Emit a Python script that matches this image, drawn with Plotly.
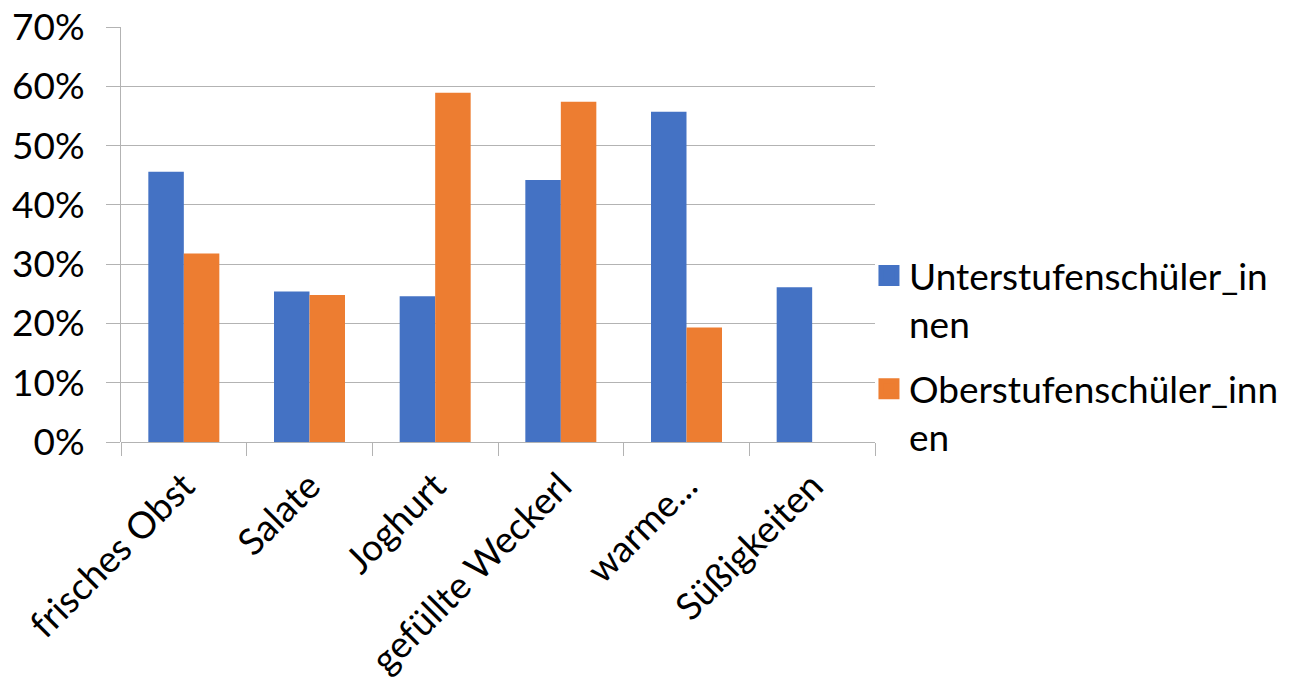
import plotly.graph_objects as go

categories = ["frisches Obst", "Salate", "Joghurt", "gefüllte Weckerl", "warme...", "Süßigkeiten"]
unterstufe = [0.456, 0.254, 0.246, 0.442, 0.557, 0.261]
oberstufe = [0.318, 0.248, 0.589, 0.574, 0.193, 0.0]
series_names = ["Unterstufenschüler_in<br>nen", "Oberstufenschüler_inn<br>en"]
colors = ["#4472C4", "#ED7D31"]
y_ticks = [0, 0.1, 0.2, 0.3, 0.4, 0.5, 0.6, 0.7]

GRID = "#b3b3b3"
FONT = "Lato, 'Open Sans', sans-serif"

fig = go.Figure()
for vals, col in zip([unterstufe, oberstufe], colors):
    fig.add_trace(go.Bar(x=categories, y=vals, marker=dict(color=col, line=dict(width=0)),
                         showlegend=False))

# legend entries
for i, (name, col) in enumerate(zip(series_names, colors)):
    fig.add_trace(go.Scatter(x=[None], y=[None], mode="markers", name=name,
                             legendgroup=f"g{i}",
                             marker=dict(symbol="square", size=16, color=col,
                                         line=dict(color=col, width=5))))

fig.update_layout(
    width=1298, height=691,
    margin=dict(l=121, r=423, t=27, b=249, autoexpand=False),
    paper_bgcolor="white", plot_bgcolor="white",
    font=dict(family=FONT, size=37, color="black"),
    barmode="group", bargap=0.435, bargroupgap=0,
    legend=dict(x=0.992, xanchor="left", y=0.475, yanchor="top",
                valign="top", tracegroupgap=14, font=dict(size=37),
                bgcolor="rgba(0,0,0,0)"),
    xaxis=dict(type="category", tickson="boundaries", ticks="outside", ticklen=13,
               tickcolor=GRID, tickwidth=1, tickangle=-45, showgrid=False,
               showline=False, range=[-0.5, 5.5], automargin=False,
               ticklabelstandoff=14),
    yaxis=dict(range=[0, 0.7], tickvals=y_ticks, tickformat=".0%", showgrid=True,
               gridcolor=GRID, gridwidth=1, zeroline=True, zerolinecolor=GRID,
               zerolinewidth=1, showline=True, linecolor=GRID, linewidth=1,
               ticks="outside", ticklen=14, tickcolor=GRID, ticklabelstandoff=14,
               automargin=False),
)

fig.write_html("out.html")
